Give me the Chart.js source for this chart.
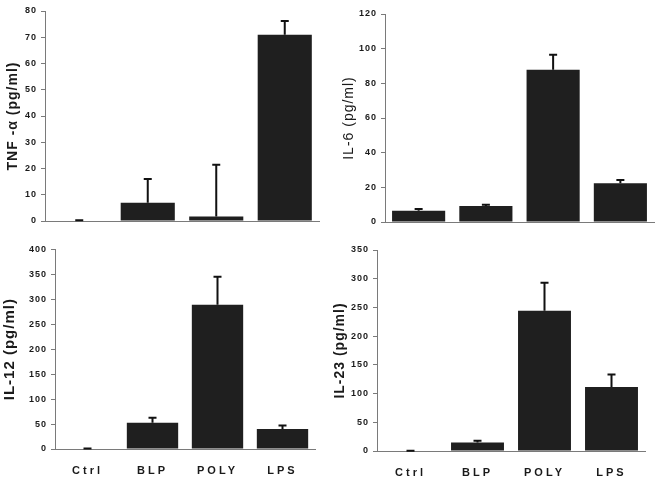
<!DOCTYPE html>
<html>
<head>
<meta charset="utf-8">
<script src="https://cdn.jsdelivr.net/npm/chart.js@4/dist/chart.umd.min.js"></script>
<style>
  body { margin: 0; background: #fff; }
  #wrap { position: relative; width: 664px; height: 484px; }
  .panel { position: absolute; }
</style>
</head>
<body>
<div id="wrap">
  <div class="panel" style="left:0;top:0;width:332px;height:240px"><canvas id="tnf"></canvas></div>
  <div class="panel" style="left:332px;top:0;width:332px;height:240px"><canvas id="il6"></canvas></div>
  <div class="panel" style="left:0;top:240px;width:332px;height:244px"><canvas id="il12"></canvas></div>
  <div class="panel" style="left:332px;top:240px;width:332px;height:244px"><canvas id="il23"></canvas></div>
</div>
<script>
const groups = ['Ctrl', 'BLP', 'POLY', 'LPS'];

// mean values and upper error (SD)
const tnfMean = [0, 7, 1.7, 71];
const tnfSd = [0.3, 9, 19.7, 5.2];
const il6Mean = [6.5, 9.2, 87.8, 22.3];
const il6Sd = [1, 0.8, 8.7, 1.9];
const il12Mean = [0, 52.8, 289, 40.3];
const il12Sd = [1, 9.9, 56, 6.6];
const il23Mean = [0, 15, 244, 111.5];
const il23Sd = [0.6, 3, 49, 21.5];

const BAR = '#1f1f1f';
const AXIS = '#7a7a7a';

// draws the upward error bar + cap on each bar
const errorBars = {
  id: 'errorBars',
  afterDatasetsDraw(chart) {
    const { ctx, scales: { y } } = chart;
    const ds = chart.data.datasets[0];
    const meta = chart.getDatasetMeta(0);
    ctx.save();
    ctx.strokeStyle = '#111';
    ctx.lineWidth = 2;
    meta.data.forEach((bar, i) => {
      const top = y.getPixelForValue(ds.data[i] + ds.sd[i]);
      ctx.beginPath();
      ctx.moveTo(bar.x, bar.y);
      ctx.lineTo(bar.x, top);
      ctx.moveTo(bar.x - 4, top);
      ctx.lineTo(bar.x + 4, top);
      ctx.stroke();
    });
    ctx.restore();
  }
};

// spaced-out lettering like the original figure
const spacing = {
  id: 'spacing',
  beforeLayout(chart) { chart.ctx.letterSpacing = '1px'; },
  beforeDraw(chart) {
    chart.ctx.letterSpacing = '1px';
    const sx = chart.scales.x;
    if (sx && !sx._spaced) {
      const orig = sx.drawLabels.bind(sx);
      sx.drawLabels = function (area) {
        const c = this.ctx;
        const prev = c.letterSpacing;
        c.letterSpacing = '3px';
        orig(area);
        c.letterSpacing = prev;
      };
      sx._spaced = true;
    }
  }
};

function makeChart(id, cfg) {
  return new Chart(document.getElementById(id), {
    type: 'bar',
    data: {
      labels: groups,
      datasets: [{
        data: cfg.mean,
        sd: cfg.sd,
        backgroundColor: BAR,
        borderWidth: 0,
        categoryPercentage: 1,
        barPercentage: 0.79
      }]
    },
    plugins: [errorBars, spacing],
    options: {
      responsive: true,
      maintainAspectRatio: false,
      animation: false,
      layout: { padding: { top: cfg.top, right: cfg.right, left: 0, bottom: 0 } },
      plugins: { legend: { display: false }, tooltip: { enabled: false } },
      scales: {
        x: {
          grid: { display: false, drawTicks: false },
          border: { display: true, color: AXIS, width: 1 },
          ticks: {
            display: cfg.showX,
            padding: 15,
            color: '#1a1a1a',
            font: { family: 'Liberation Sans', size: 11, weight: 'bold' }
          },
          afterFit(s) { s.height = cfg.xHeight; }
        },
        y: {
          min: 0,
          max: cfg.max,
          ticks: {
            stepSize: cfg.step,
            padding: 4,
            color: '#1a1a1a',
            font: { family: 'Liberation Sans', size: 9, weight: 'bold' }
          },
          grid: { drawOnChartArea: false, drawTicks: true, tickLength: 4, color: AXIS },
          border: { display: true, color: AXIS, width: 1 },
          title: {
            display: true,
            text: cfg.title,
            color: '#1a1a1a',
            padding: { top: cfg.titlePad, bottom: 0 },
            font: { family: 'Liberation Sans', size: cfg.titleSize, weight: cfg.titleWeight }
          },
          afterFit(s) { s.width = cfg.yWidth; }
        }
      }
    }
  });
}

makeChart('tnf', {
  mean: tnfMean, sd: tnfSd, max: 80, step: 10, title: 'TNF -\u03b1 (pg/ml)',
  titleSize: 14, titleWeight: 'bold', titlePad: 4.6,
  yWidth: 45, top: 11, right: 13, xHeight: 19, showX: false
});
makeChart('il6', {
  mean: il6Mean, sd: il6Sd, max: 120, step: 20, title: 'IL-6 (pg/ml)',
  titleSize: 14, titleWeight: 'normal', titlePad: 9,
  yWidth: 53, top: 14, right: 10, xHeight: 18, showX: false
});
makeChart('il12', {
  mean: il12Mean, sd: il12Sd, max: 400, step: 50, title: 'IL-12 (pg/ml)',
  titleSize: 15, titleWeight: 'bold', titlePad: 1,
  yWidth: 55, top: 7, right: 17, xHeight: 35, showX: true
});
makeChart('il23', {
  mean: il23Mean, sd: il23Sd, max: 350, step: 50, title: 'IL-23 (pg/ml)',
  titleSize: 14, titleWeight: 'bold', titlePad: 0,
  yWidth: 45, top: 10, right: 19, xHeight: 33, showX: true
});
</script>
</body>
</html>
